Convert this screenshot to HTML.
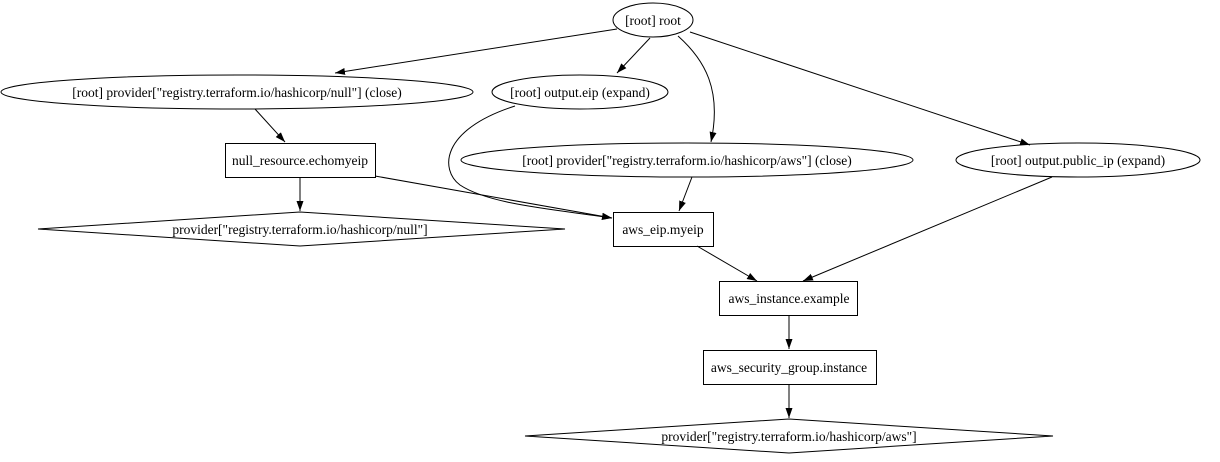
<!DOCTYPE html>
<html><head><meta charset="utf-8"><style>html,body{margin:0;padding:0;background:#fff}</style></head><body>
<svg width="1220" height="457" viewBox="0 0 1220 457" xmlns="http://www.w3.org/2000/svg" font-family="Liberation Serif, serif" font-size="13.5">
<defs><marker id="a" viewBox="0 0 10 10" refX="10" refY="5" markerWidth="10" markerHeight="10" markerUnits="userSpaceOnUse" orient="auto"><path d="M0,1.5 L10,5 L0,8.5 z" fill="#000"/></marker></defs>
<g fill="none" stroke="#000" stroke-width="1">
<ellipse cx="653" cy="20" rx="40" ry="17"/>
<ellipse cx="237" cy="92" rx="236" ry="17"/>
<ellipse cx="580" cy="92" rx="88" ry="17"/>
<ellipse cx="687" cy="160" rx="226" ry="17"/>
<ellipse cx="1078" cy="160" rx="122" ry="17"/>
<rect x="225.5" y="143.5" width="150" height="34"/>
<polygon points="38,229 300,212 565,229 300,246"/>
<rect x="613.5" y="212.5" width="100" height="34"/>
<rect x="719.5" y="281.5" width="138" height="34"/>
<rect x="703.5" y="350.5" width="173" height="34"/>
<polygon points="525,436 789,419 1053,436 789,453"/>
<path d="M617,29 L335,73" marker-end="url(#a)"/>
<path d="M650,38 L617,73" marker-end="url(#a)"/>
<path d="M678,36 C705,60 722,90 711,142" marker-end="url(#a)"/>
<path d="M690,32 L1030,145" marker-end="url(#a)"/>
<path d="M255,109 L285,142" marker-end="url(#a)"/>
<path d="M515,106 C440,130 440,170 460,185 C490,205 560,210 612,218" marker-end="url(#a)"/>
<path d="M375,176 L612,218" marker-end="url(#a)"/>
<path d="M300,177 L300,211" marker-end="url(#a)"/>
<path d="M692,177 L679,211" marker-end="url(#a)"/>
<path d="M697,246 L757,281" marker-end="url(#a)"/>
<path d="M1052,177 L803,281" marker-end="url(#a)"/>
<path d="M789,315 L789,349" marker-end="url(#a)"/>
<path d="M789,384 L789,418" marker-end="url(#a)"/>
</g>
<g text-anchor="middle" fill="#000">
<text x="653" y="25">[root] root</text>
<text x="237" y="97">[root] provider["registry.terraform.io/hashicorp/null"] (close)</text>
<text x="580" y="97">[root] output.eip (expand)</text>
<text x="687" y="165">[root] provider["registry.terraform.io/hashicorp/aws"] (close)</text>
<text x="1078" y="165">[root] output.public_ip (expand)</text>
<text x="300" y="165">null_resource.echomyeip</text>
<text x="300" y="234">provider["registry.terraform.io/hashicorp/null"]</text>
<text x="663" y="234">aws_eip.myeip</text>
<text x="789" y="303">aws_instance.example</text>
<text x="789" y="372">aws_security_group.instance</text>
<text x="789" y="441">provider["registry.terraform.io/hashicorp/aws"]</text>
</g>
</svg>
</body></html>
